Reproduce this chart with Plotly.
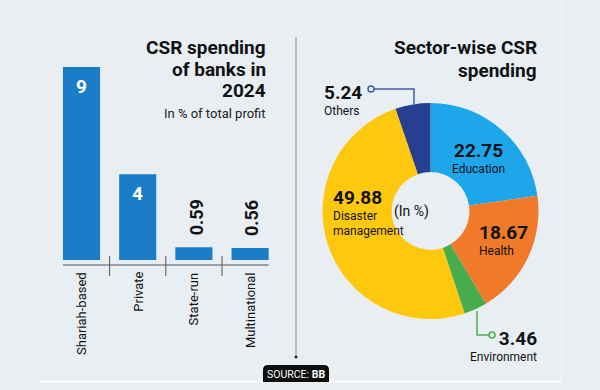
import plotly.graph_objects as go

# ---------------- data ----------------
bank_types = ["Shariah-based", "Private", "State-run", "Multinational"]
csr_pct_profit = [9, 4, 0.59, 0.56]

sectors = ["Education", "Health", "Environment", "Disaster management", "Others"]
sector_share = [22.75, 18.67, 3.46, 49.88, 5.24]
sector_colors = ["#1ea6ea", "#f07a2a", "#48ac4c", "#fec80e", "#263f8e"]

W, H = 600, 390
BG = "#e9eef2"
FONT = "Roboto, Arial, sans-serif"
INK = "#121212"


def px(x):
    return x / W


def py(y):
    return 1 - y / H


fig = go.Figure()

# ---------------- bar chart ----------------
fig.add_trace(go.Bar(
    x=list(range(len(bank_types))),
    y=csr_pct_profit,
    marker=dict(color="#1b7dc8", line=dict(width=0)),
    xaxis="x", yaxis="y",
    hoverinfo="skip",
    showlegend=False,
))

# ---------------- donut ----------------
fig.add_trace(go.Pie(
    values=sector_share,
    labels=sectors,
    marker=dict(colors=sector_colors, line=dict(width=0)),
    sort=False,
    direction="clockwise",
    rotation=0,
    hole=0.36,
    textinfo="none",
    hoverinfo="label+value",
    showlegend=False,
    domain=dict(x=[px(322.5), px(538.5)], y=[py(319), py(103)]),
))

annotations = []
shapes = []

# bar value labels
for i, v in enumerate(csr_pct_profit):
    if v >= 1:
        annotations.append(dict(
            x=i, y=v, xref="x", yref="y", text=f"<b>{v:g}</b>",
            showarrow=False, yanchor="top", yshift=-6,
            font=dict(family=FONT, size=19, color="white")))
    else:
        annotations.append(dict(
            x=i, y=v, xref="x", yref="y", text=f"<b>{v:.2f}</b>",
            showarrow=False, yanchor="bottom", yshift=10, xshift=2,
            textangle=-90,
            font=dict(family=FONT, size=18, color=INK)))

# category labels (rotated)
for i, name in enumerate(bank_types):
    annotations.append(dict(
        x=i, y=py(270), xref="x", yref="paper", text=name,
        showarrow=False, yanchor="top", textangle=-90,
        font=dict(family=FONT, size=13, color=INK)))

# baseline and separators
shapes.append(dict(type="line", xref="x", yref="paper",
                   x0=-0.33, x1=3.33, y0=py(265), y1=py(265),
                   line=dict(color="#555555", width=1)))
for t in [0.5, 1.5, 2.5]:
    shapes.append(dict(type="line", xref="x", yref="paper",
                       x0=t, x1=t, y0=py(256), y1=py(276),
                       line=dict(color="#555555", width=1)))

# left titles
for txt, yy in [("CSR spending", 47), ("of banks in", 69), ("2024", 90)]:
    annotations.append(dict(
        x=px(268), y=py(yy), xref="paper", yref="paper", text=f"<b>{txt}</b>",
        showarrow=False, xanchor="right", yanchor="middle",
        font=dict(family=FONT, size=19, color=INK)))
annotations.append(dict(
    x=px(268), y=py(113), xref="paper", yref="paper", text="In % of total profit",
    showarrow=False, xanchor="right", yanchor="middle",
    font=dict(family=FONT, size=13, color="#222222")))

# right titles
for txt, yy in [("Sector-wise CSR", 47), ("spending", 70)]:
    annotations.append(dict(
        x=px(539), y=py(yy), xref="paper", yref="paper", text=f"<b>{txt}</b>",
        showarrow=False, xanchor="right", yanchor="middle",
        font=dict(family=FONT, size=19, color=INK)))

# donut labels: x, y (box centre), anchor
label_layout = {
    "Education": dict(x=478, y=157, anchor="center"),
    "Health": dict(x=477, y=239, anchor="left"),
    "Others": dict(x=322, y=99, anchor="left"),
    "Environment": dict(x=539, y=345, anchor="right"),
    "Disaster management": dict(x=331, y=212, anchor="left"),
}
for name, val in zip(sectors, sector_share):
    L = label_layout[name]
    name_lines = "<br>".join(name.split(" "))
    annotations.append(dict(
        x=px(L["x"]), y=py(L["y"]), xref="paper", yref="paper",
        text=f"<span style='font-size:19px'><b>{val:.2f}</b></span><br>{name_lines}",
        showarrow=False, xanchor=L["anchor"], align=L["anchor"],
        yanchor="middle", font=dict(family=FONT, size=12, color=INK)))

annotations.append(dict(
    x=px(431), y=py(211), xref="paper", yref="paper", text="(In %)",
    showarrow=False, font=dict(family=FONT, size=14, color=INK)))

# connectors
shapes.append(dict(type="path", xref="paper", yref="paper",
                   path=f"M {px(374)} {py(89)} L {px(414)} {py(89)} L {px(414)} {py(104)}",
                   line=dict(color="#3f5caa", width=1.5)))
shapes.append(dict(type="circle", xref="paper", yref="paper",
                   x0=px(368), x1=px(374), y0=py(92), y1=py(86),
                   fillcolor=BG, line=dict(color="#3f5caa", width=1.5)))
shapes.append(dict(type="path", xref="paper", yref="paper",
                   path=f"M {px(477)} {py(311)} L {px(477)} {py(335)} L {px(489)} {py(335)}",
                   line=dict(color="#4caf50", width=1.5)))
shapes.append(dict(type="circle", xref="paper", yref="paper",
                   x0=px(489), x1=px(495), y0=py(338), y1=py(332),
                   fillcolor=BG, line=dict(color="#4caf50", width=1.5)))

# divider
shapes.append(dict(type="line", xref="paper", yref="paper",
                   x0=px(296), x1=px(296), y0=py(37), y1=py(356),
                   line=dict(color="#8a8f94", width=1)))
shapes.append(dict(type="circle", xref="paper", yref="paper",
                   x0=px(294.5), x1=px(297.5), y0=py(358.5), y1=py(355.5),
                   fillcolor="#222222", line=dict(width=0)))

# bottom white rule
shapes.append(dict(type="line", xref="paper", yref="paper",
                   x0=px(40), x1=px(562), y0=py(381.5), y1=py(381.5),
                   line=dict(color="white", width=2)))
# faint right panel edge
shapes.append(dict(type="line", xref="paper", yref="paper",
                   x0=px(562), x1=px(562), y0=py(0), y1=py(381),
                   line=dict(color="#f2f5f8", width=1)))

# source tab
r = 5
x0s, x1s, y0s, y1s = 263, 329, 365, 382
shapes.append(dict(type="path", xref="paper", yref="paper",
                   path=(f"M {px(x0s)} {py(y1s)} L {px(x0s)} {py(y0s + r)} "
                         f"Q {px(x0s)} {py(y0s)} {px(x0s + r)} {py(y0s)} "
                         f"L {px(x1s - r)} {py(y0s)} "
                         f"Q {px(x1s)} {py(y0s)} {px(x1s)} {py(y0s + r)} "
                         f"L {px(x1s)} {py(y1s)} Z"),
                   fillcolor="#0d0d0d", line=dict(width=0)))
annotations.append(dict(
    x=px(296), y=py(374), xref="paper", yref="paper", yanchor="middle",
    text="SOURCE: <b>BB</b>", showarrow=False,
    font=dict(family=FONT, size=10.5, color="white")))

fig.update_layout(
    width=W, height=H,
    margin=dict(l=0, r=0, t=0, b=0),
    paper_bgcolor=BG, plot_bgcolor="rgba(0,0,0,0)",
    bargap=0.34,
    xaxis=dict(domain=[px(53.4), px(278.2)], range=[-0.5, 3.5],
               visible=False, fixedrange=True),
    yaxis=dict(domain=[py(260), py(67)], range=[0, 9],
               visible=False, fixedrange=True),
    annotations=annotations,
    shapes=shapes,
)

fig.write_html(
    "out.html",
    config={"displayModeBar": False},
    post_script="document.body.style.margin='0';document.body.style.padding='0';"
                "document.body.style.overflow='hidden';document.body.style.background='" + BG + "';",
)
